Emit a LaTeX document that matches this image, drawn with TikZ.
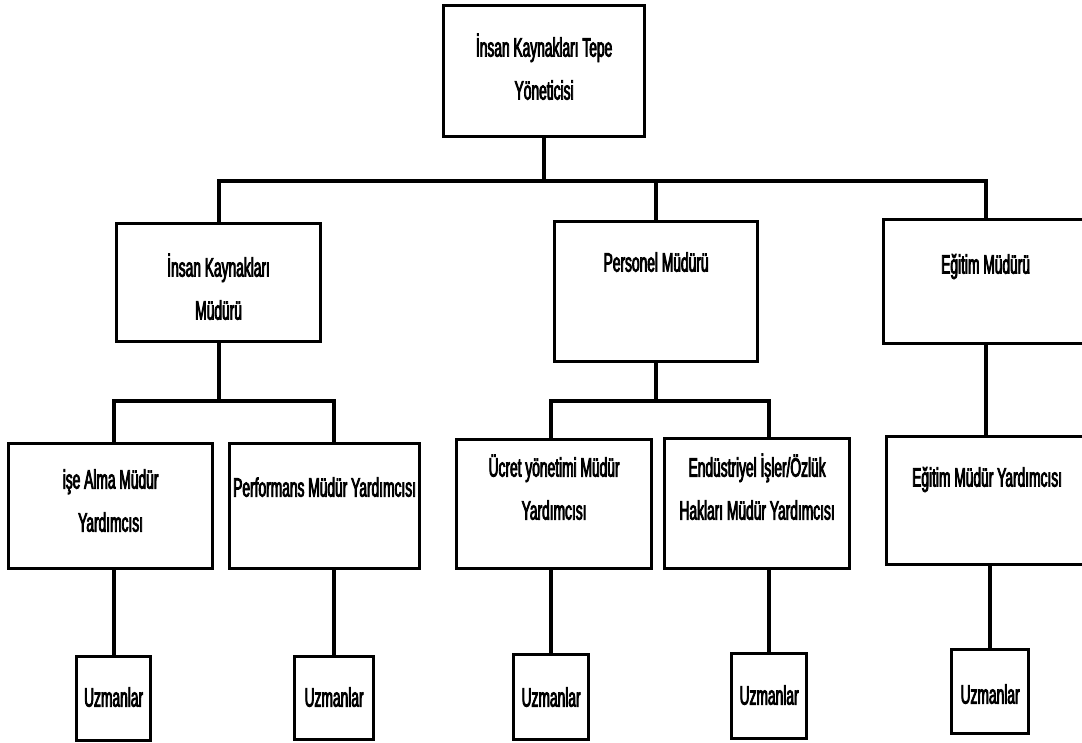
\documentclass[tikz,border=0pt]{standalone}
\usepackage{fontspec}
\setmainfont{Liberation Sans}[FakeStretch=0.52, FakeBold=3]
\begin{document}
\begin{tikzpicture}[x=1pt, y=-1pt,
  box/.style={draw, line width=3.2pt, inner sep=0pt, anchor=north west,
    align=center, font=\fontsize{26.5}{43}\selectfont},
  conn/.style={line width=4.2pt}]
\useasboundingbox (0,0) rectangle (1082,743);

% top level (text height/depth measured from the last baseline)
\node[box, minimum width=201pt, text height=94pt, text depth=37pt] (top) at (442,4)
  {İnsan Kaynakları Tepe\\Yöneticisi};

% managers
\node[box, minimum width=204pt, text height=96pt, text depth=22pt] (hrm) at (115,222)
  {İnsan Kaynakları\\Müdürü};
\node[box, minimum width=203pt, text height=50pt, text depth=90pt] (pm) at (553,220)
  {Personel Müdürü};
\node[box, minimum width=204pt, text height=54pt, text depth=70pt] (em) at (882,218)
  {Eğitim Müdürü};

% assistant managers
\node[box, minimum width=204pt, text height=88pt, text depth=37pt] (ia) at (7,442)
  {işe Alma Müdür\\Yardımcısı};
\node[box, minimum width=190pt, text height=53pt, text depth=72pt] (pf) at (228,442)
  {Performans Müdür Yardımcısı};
\node[box, minimum width=195pt, text height=80pt, text depth=49pt] (uc) at (455,438)
  {Ücret yönetimi Müdür\\Yardımcısı};
\node[box, minimum width=185pt, text height=81pt, text depth=49pt] (ed) at (663,437)
  {Endüstriyel İşler/Özlük\\Hakları Müdür Yardımcısı};
\node[box, minimum width=201pt, text height=50pt, text depth=78pt] (ey) at (885,435)
  {Eğitim Müdür Yardımcısı};

% specialists
\node[box, minimum width=74pt, text height=50pt, text depth=34pt] (u1) at (75,655) {Uzmanlar};
\node[box, minimum width=79pt, text height=50pt, text depth=33pt] (u2) at (293,655) {Uzmanlar};
\node[box, minimum width=75pt, text height=52pt, text depth=33pt] (u3) at (512,653) {Uzmanlar};
\node[box, minimum width=75pt, text height=51pt, text depth=34pt] (u4) at (730,652) {Uzmanlar};
\node[box, minimum width=77pt, text height=54pt, text depth=30pt] (u5) at (950,648) {Uzmanlar};

% connectors: top level to managers
\draw[conn] (top.south) -- ++(0,43) coordinate (j0);
\draw[conn] (hrm.north) |- (j0 -| em.north) -- (em.north);
\draw[conn] (pm.north) -- (pm.north |- j0);

% managers to assistant managers
\draw[conn] (hrm.south) -- ++(0,58) coordinate (j1);
\draw[conn] (ia.north -| u1.north) |- (j1 -| u2.north) -- (pf.north -| u2.north);
\draw[conn] (pm.south) -- ++(0,38) coordinate (j2);
\draw[conn] (uc.north -| u3.north) |- (j2 -| u4.north) -- (ed.north -| u4.north);
\draw[conn] (em.south) -- (em.south |- ey.north);

% assistant managers to specialists
\foreach \u/\b in {u1/ia, u2/pf, u3/uc, u4/ed, u5/ey}
  \draw[conn] (\u.north) -- (\u.north |- \b.south);
\end{tikzpicture}
\end{document}
